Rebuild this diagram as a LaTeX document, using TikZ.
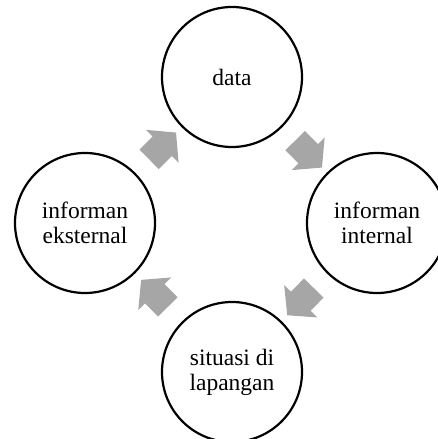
\documentclass[tikz,border=0pt]{standalone}
\usepackage{fontspec}
\setmainfont{Liberation Serif}
\usetikzlibrary{shapes.arrows}
\definecolor{flowgray}{HTML}{A6A6A6}
\tikzset{
    stage/.style={circle, draw=black, line width=2.2pt, minimum size=140pt, inner sep=0pt,
        align=center, font=\fontsize{23.5}{25}\selectfont},
    flow/.style={single arrow, fill=flowgray, draw=none, sloped, allow upside down,
        inner xsep=0pt, inner ysep=13.5pt,
        minimum height=38pt, single arrow head extend=9.5pt, single arrow tip angle=100}
}
\begin{document}
\begin{tikzpicture}[x=1pt,y=-1pt]
    \pgfmathsetmacro{\midx}{232};
    \pgfmathsetmacro{\midy}{223};
    \useasboundingbox (0,0) rectangle (438,439);
    \clip (0,0) rectangle (438,439);
    \node[stage] (data) at (\midx,77) {data};
    \node[stage] (intern) at (377,\midy) {informan\\internal};
    \node[stage] (lapangan) at (\midx,372) {situasi di\\lapangan};
    \node[stage] (ekstern) at (85,\midy) {informan\\eksternal};
    \path (data) -- node[flow]{} (intern);
    \path (intern) -- node[flow]{} (lapangan);
    \path (lapangan) -- node[flow]{} (ekstern);
    \path (ekstern) -- node[flow]{} (data);
\end{tikzpicture}
\end{document}
